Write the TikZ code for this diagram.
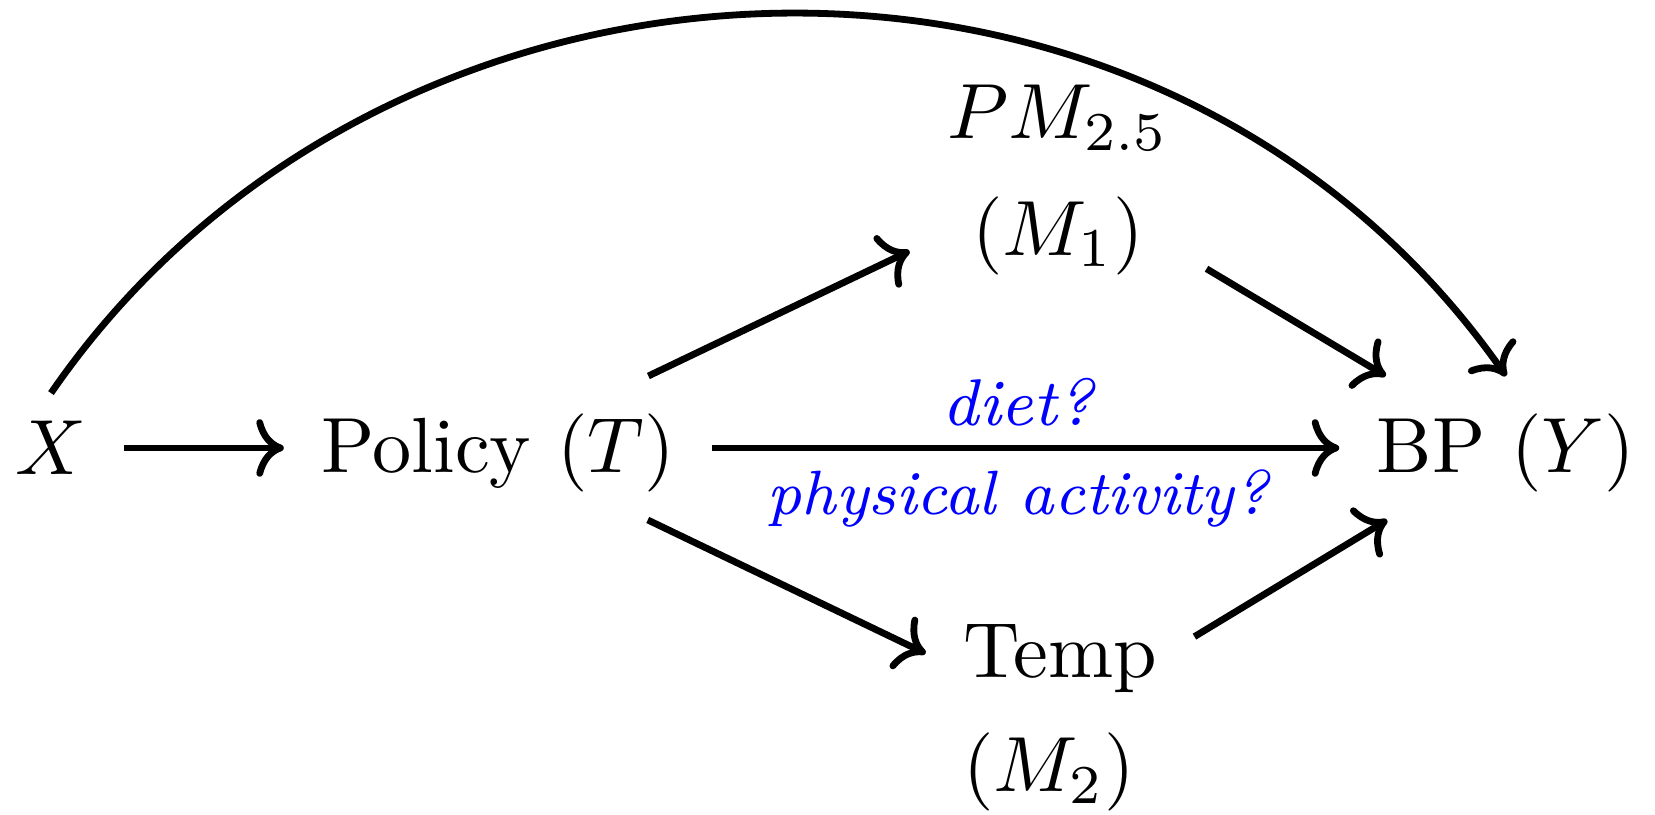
\documentclass[tikz,border=0pt]{standalone}
\usetikzlibrary{arrows.meta}
\begin{document}
\begin{tikzpicture}[x=0.1278pt,y=-0.1278pt,
  every node/.style={inner xsep=4.6pt, inner ysep=3.4pt},
  var/.style={text height=8.7pt, text depth=2.5pt},
  xvar/.style={text height=6.83pt, text depth=0pt},
  med/.style={align=center},
  arr/.style={line width=0.87pt, -{Computer Modern Rightarrow}},
  lab/.style={text=blue, inner sep=2.3pt},
  labA/.style={lab, font=\fontsize{8.45pt}{10pt}\selectfont\itshape},
  labB/.style={lab, font=\fontsize{8pt}{10pt}\selectfont\itshape}
]
\useasboundingbox (0,0) rectangle (1655,815);
\node[xvar] (X) at (51,448) {$X$};
\node[var] (T) at (498,448) {Policy $(T)$};
\node[var] (Y) at (1506,448) {BP $(Y)$};
\node[med] (M1) at (1058,180) {$PM_{2.5}$\\[2.9pt]$(M_1)$};
\node[med] (M2) at (1060,718) {Temp\\[2.5pt]$(M_2)$\rule{2.8pt}{0pt}};
\draw[arr] (X) -- (T);
\draw[arr] (T) -- node[labA, above, pos=0.488]{diet?} node[labB, below, pos=0.488]{physical activity?} (Y);
\draw[arr] (T) -- (M1);
\draw[arr] (M1) -- (Y);
\draw[arr] (T) -- (M2);
\draw[arr] (M2) -- (Y);
\draw[arr] (X.north) .. controls +(335,-487) and +(-351,-501) .. (Y.north);
\end{tikzpicture}
\end{document}
